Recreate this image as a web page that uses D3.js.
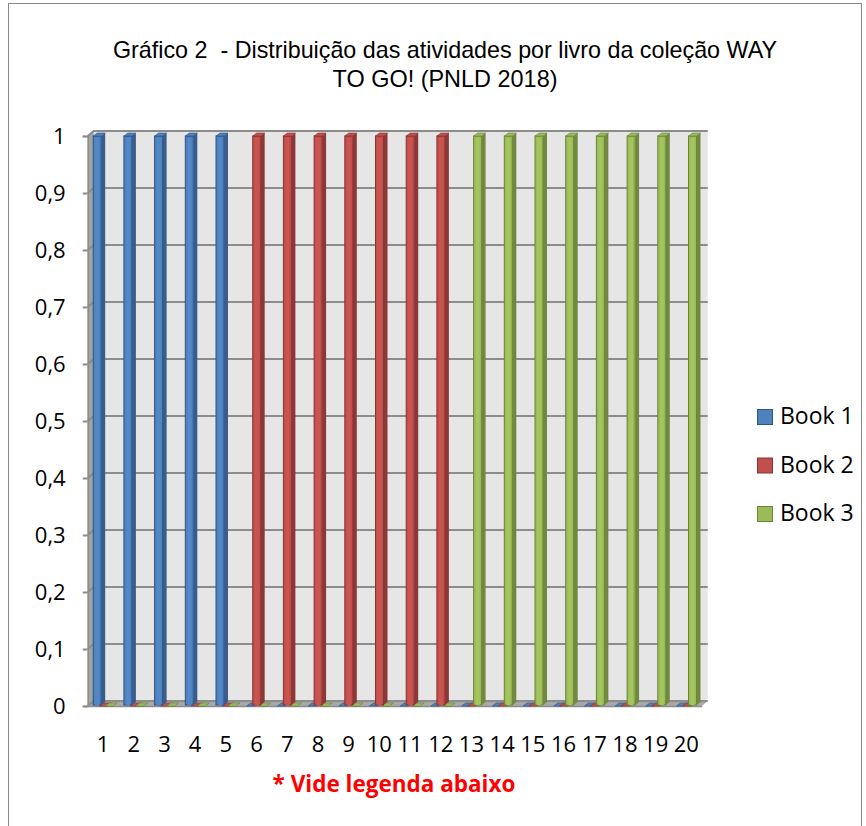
<!DOCTYPE html>
<html>
<head>
<meta charset="utf-8">
<script src="https://cdn.jsdelivr.net/npm/d3@7"></script>
<style>
  html, body { margin: 0; padding: 0; background: #fff; }
  svg { display: block; }
</style>
</head>
<body>
<svg id="chart" width="866" height="826"></svg>
<script>
// Activity numbers (1..20) and which book each one belongs to
const categories = ["1","2","3","4","5","6","7","8","9","10","11","12","13","14","15","16","17","18","19","20"];
const seriesNames = ["Book 1", "Book 2", "Book 3"];
const book1 = [1,1,1,1,1,0,0,0,0,0,0,0,0,0,0,0,0,0,0,0];
const book2 = [0,0,0,0,0,1,1,1,1,1,1,1,0,0,0,0,0,0,0,0];
const book3 = [0,0,0,0,0,0,0,0,0,0,0,0,1,1,1,1,1,1,1,1];
const yTicks = [0, 0.1, 0.2, 0.3, 0.4, 0.5, 0.6, 0.7, 0.8, 0.9, 1];
const titleLines = ["Gráfico 2\u00a0\u00a0- Distribuição das atividades por livro da coleção WAY", "TO GO! (PNLD 2018)"];
const note = "* Vide legenda abaixo";

const seriesValues = [book1, book2, book3];
const palette = [
  { front: "#4f81bd", side: "#385d8a", edge: "#2f5587" },
  { front: "#c0504d", side: "#8c3836", edge: "#8a3432" },
  { front: "#9bbb59", side: "#71893f", edge: "#6b8439" }
];

const svg = d3.select("#chart");

// outer frame
svg.append("rect").attr("x", 8.5).attr("y", 3.5).attr("width", 853).attr("height", 840)
  .attr("fill", "none").attr("stroke", "#8a8a8a").attr("stroke-width", 1);

// 3D depth offsets of the back wall
const DX = 6, DY = -5;

const x = d3.scaleBand().domain(categories).range([87.7, 701.7]).paddingInner(0).paddingOuter(0);
const y = d3.scaleLinear().domain([0, 1]).range([706, 136]);
const xLeft = x.range()[0], xRight = x.range()[1];

// back wall
svg.append("rect")
  .attr("x", xLeft + DX).attr("y", y(1) + DY)
  .attr("width", xRight - xLeft).attr("height", y(0) - y(1))
  .attr("fill", "#e6e6e6");

// left side wall
svg.append("path")
  .attr("d", `M${xLeft},${y(1)} L${xLeft + DX},${y(1) + DY} L${xLeft + DX},${y(0) + DY} L${xLeft},${y(0)} Z`)
  .attr("fill", "#a3a3a3");

// floor
svg.append("path")
  .attr("d", `M${xLeft},${y(0)} L${xLeft + DX},${y(0) + DY} L${xRight + DX},${y(0) + DY} L${xRight},${y(0)} Z`)
  .attr("fill", "#a8a8a8");

// gridlines on back and side walls
const grid = svg.append("g").attr("stroke", "#8c8c8c").attr("stroke-width", 2).attr("fill", "none");
yTicks.forEach(t => {
  grid.append("path")
    .attr("d", `M${xLeft},${y(t)} L${xLeft + DX},${y(t) + DY} L${xRight + DX},${y(t) + DY}`);
});

// y axis (front edge of the side wall)
const yAxis = d3.axisLeft(y).tickValues(yTicks).tickSize(5).tickPadding(17)
  .tickFormat(d => d3.format("~g")(d).replace(".", ","));
const gy = svg.append("g").attr("transform", `translate(${xLeft},0)`).call(yAxis);
gy.select(".domain").attr("stroke", "#8c8c8c").attr("stroke-width", 1.5);
gy.selectAll(".tick line").attr("stroke", "#8c8c8c").attr("stroke-width", 2);
gy.selectAll(".tick text").attr("font-family", "'Open Sans', sans-serif").attr("font-size", 22).attr("fill", "#000");

// x axis labels
const xAxis = d3.axisBottom(x).tickSize(0).tickPadding(30);
const gx = svg.append("g").attr("transform", `translate(0,${y(0)})`).call(xAxis);
gx.select(".domain").attr("stroke", "#8c8c8c").attr("stroke-width", 1.5);
gx.selectAll(".tick text").attr("font-family", "'Open Sans', sans-serif").attr("font-size", 22).attr("fill", "#000");

// bars (3D columns: front face, side face, top face)
const FW = 8, SD = 4, SH = -3, STEP = 6, OFF = 5.5;
const bars = [];
categories.forEach((c, i) => {
  seriesValues.forEach((vals, j) => bars.push({ c, j, v: vals[i] }));
});
// zero-height columns sit on the floor and are drawn first
bars.sort((a, b) => (a.v > 0) - (b.v > 0));

const gBars = svg.append("g");
bars.forEach(b => {
  const bx = x(b.c) + OFF + b.j * STEP;
  const top = y(b.v);
  const base = y(0) - 1;
  const col = palette[b.j];
  const g = gBars.append("g");
  if (b.v > 0) {
    g.append("rect").attr("x", bx).attr("y", top).attr("width", FW).attr("height", base - top)
      .attr("fill", col.front).attr("stroke", col.edge).attr("stroke-width", 1);
    g.append("rect").attr("x", bx + 2).attr("y", top + 2).attr("width", FW - 4).attr("height", base - top - 2)
      .attr("fill", d3.color(col.front).brighter(0.15));
    g.append("path")
      .attr("d", `M${bx + FW},${top} L${bx + FW + SD},${top + SH} L${bx + FW + SD},${base + SH} L${bx + FW},${base} Z`)
      .attr("fill", col.side);
  }
  g.append("path")
    .attr("d", `M${bx},${top} L${bx + SD},${top + SH} L${bx + FW + SD},${top + SH} L${bx + FW},${top} Z`)
    .attr("fill", col.front).attr("stroke", col.edge).attr("stroke-width", 0.6);
});

// title (two centred lines, condensed to fit)
const title = svg.append("g").attr("font-family", "'Liberation Sans Narrow', 'Liberation Sans', sans-serif")
  .attr("font-size", 24).attr("fill", "#000").attr("text-anchor", "middle");
title.append("text").attr("x", 445).attr("y", 58).attr("textLength", 664).attr("lengthAdjust", "spacingAndGlyphs").text(titleLines[0]);
title.append("text").attr("x", 445).attr("y", 87).attr("textLength", 225).attr("lengthAdjust", "spacingAndGlyphs").text(titleLines[1]);

// legend
const legend = svg.append("g");
seriesNames.forEach((name, j) => {
  const ly = 409 + j * 48.5;
  legend.append("rect").attr("x", 757.5).attr("y", ly + 0.5).attr("width", 15).attr("height", 15)
    .attr("fill", palette[j].front).attr("stroke", palette[j].edge).attr("stroke-width", 1);
  legend.append("text").attr("x", 780).attr("y", ly + 15)
    .attr("font-family", "'Open Sans', sans-serif").attr("font-size", 23).attr("fill", "#000").text(name);
});

// note under the axis
svg.append("text").attr("x", 394).attr("y", 792).attr("text-anchor", "middle")
  .attr("font-family", "'Open Sans', sans-serif").attr("font-weight", "bold").attr("font-size", 22.5)
  .attr("fill", "#ff0000").text(note);
</script>
</body>
</html>
